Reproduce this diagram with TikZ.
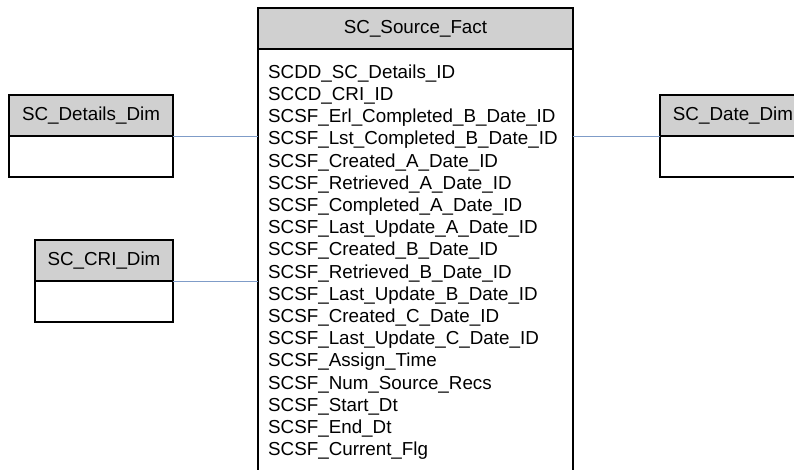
\documentclass[tikz,border=0pt]{standalone}
\usepackage{fontspec}
\setmainfont{Liberation Sans}
\definecolor{hdrgray}{RGB}{208,208,208}
\definecolor{linkblue}{RGB}{127,156,200}
\begin{document}
\begin{tikzpicture}[x=1pt,y=-1pt,
 box/.style={draw=black, line width=1.2pt, anchor=north west, inner sep=0pt, outer sep=0pt},
 hdr/.style={box, fill=hdrgray, font=\fontsize{18.8}{22.2}\selectfont, minimum height=41pt},
 bodybox/.style={box, fill=white},
 link/.style={draw=linkblue, line width=0.8pt},
 attrs/.style={anchor=north west, inner sep=0pt, align=left, font=\fontsize{18.8}{22.2}\selectfont}]
\useasboundingbox (0,0) rectangle (794,469);
\clip (0,0) rectangle (794,469);
% fact table
\node[hdr, minimum width=315pt] (facth) at (258,8) {SC\_Source\_Fact};
\node[bodybox, minimum width=315pt, minimum height=440pt] (factb) at (258,49) {};
\node[attrs] (facta) at (268,64.5) {SCDD\_SC\_Details\_ID\\
SCCD\_CRI\_ID\\
SCSF\_Erl\_Completed\_B\_Date\_ID\\
SCSF\_Lst\_Completed\_B\_Date\_ID\\
SCSF\_Created\_A\_Date\_ID\\
SCSF\_Retrieved\_A\_Date\_ID\\
SCSF\_Completed\_A\_Date\_ID\\
SCSF\_Last\_Update\_A\_Date\_ID\\
SCSF\_Created\_B\_Date\_ID\\
SCSF\_Retrieved\_B\_Date\_ID\\
SCSF\_Last\_Update\_B\_Date\_ID\\
SCSF\_Created\_C\_Date\_ID\\
SCSF\_Last\_Update\_C\_Date\_ID\\
SCSF\_Assign\_Time\\
SCSF\_Num\_Source\_Recs\\
SCSF\_Start\_Dt\\
SCSF\_End\_Dt\\
SCSF\_Current\_Flg};
% details dim
\node[hdr, minimum width=164pt] (deth) at (9,95) {SC\_Details\_Dim};
\node[bodybox, minimum width=164pt, minimum height=41pt] (detb) at (9,136) {};
% CRI dim
\node[hdr, minimum width=138pt] (crih) at (35,240) {SC\_CRI\_Dim};
\node[bodybox, minimum width=138pt, minimum height=41pt] (crib) at (35,281) {};
% date dim
\node[hdr, minimum width=146pt] (dateh) at (660,95) {SC\_Date\_Dim};
\node[bodybox, minimum width=146pt, minimum height=41pt] (dateb) at (660,136) {};
% connectors
\draw[link] (detb.north east) -- (detb.north east -| factb.west);
\draw[link] (crib.north east) -- (crib.north east -| factb.west);
\draw[link] (dateb.north west -| factb.east) -- (dateb.north west);
\end{tikzpicture}
\end{document}
